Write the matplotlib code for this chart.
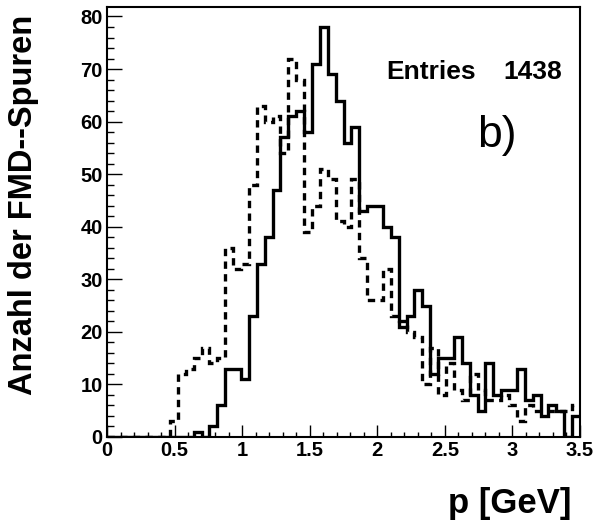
import numpy as np
import matplotlib
matplotlib.use("Agg")
import matplotlib.pyplot as plt
from matplotlib.ticker import MultipleLocator

# Histogram: 60 bins between 0 and 3.5 GeV
x_min, x_max, n_bins = 0.0, 3.5, 60

solid_counts = [
    0, 0, 0, 0, 0, 0, 0, 0, 0, 0,
    0, 1, 0, 2, 6, 13, 13, 11, 23, 33,
    38, 47, 57, 61, 62, 58, 71, 78, 69, 64,
    56, 59, 43, 44, 44, 40, 38, 21, 23, 28,
    25, 12, 15, 15, 19, 14, 8, 5, 14, 8,
    9, 9, 13, 7, 8, 4, 6, 5, 0, 4,
]
dashed_counts = [
    0, 0, 0, 0, 0, 0, 0, 0, 3, 12,
    13, 15, 17, 14, 15, 36, 32, 33, 48, 63,
    60, 61, 54, 72, 68, 39, 44, 51, 49, 41,
    40, 49, 34, 26, 26, 32, 23, 22, 20, 19,
    10, 17, 8, 14, 9, 7, 12, 9, 7, 7,
    8, 6, 3, 6, 5, 5, 5, 5, 5, 6,
]
entries = 1438
panel_tag = "b)"
x_title = "p [GeV]"
y_title = "Anzahl der FMD--Spuren"
x_ticks = [0, 0.5, 1, 1.5, 2, 2.5, 3, 3.5]
x_tick_labels = ["0", "0.5", "1", "1.5", "2", "2.5", "3", "3.5"]
y_ticks = [0, 10, 20, 30, 40, 50, 60, 70, 80]

plt.rcParams["font.family"] = ["Liberation Sans", "DejaVu Sans"]

W, H = 611, 520
fig = plt.figure(figsize=(W / 100, H / 100), dpi=100)
fig.patch.set_facecolor("white")

# axes frame in pixel coords: left 107, right 580, bottom 437, top 6.5
ax = fig.add_axes([107 / W, (H - 437) / H, (580 - 107) / W, (437 - 6.5) / H])

edges = np.linspace(x_min, x_max, n_bins + 1)
ax.stairs(solid_counts, edges, color="black", linewidth=2.4, baseline=None)
ax.stairs(dashed_counts, edges, color="black", linewidth=2.4, baseline=None,
          linestyle=(0, (2.2, 1.6)))

ax.set_xlim(x_min, x_max)
ax.set_ylim(0, 1.05 * max(solid_counts))

ax.set_xticks(x_ticks)
ax.set_xticklabels(x_tick_labels)
ax.set_yticks(y_ticks)
ax.xaxis.set_minor_locator(MultipleLocator(0.1))
ax.yaxis.set_minor_locator(MultipleLocator(2))

ax.tick_params(axis="both", which="both", direction="in", top=False, right=False,
               width=1.0, labelsize=14.5)
ax.tick_params(axis="x", which="major", length=8.5, pad=3)
ax.tick_params(axis="x", which="minor", length=3.8)
ax.tick_params(axis="y", which="major", length=10.5, pad=3)
ax.tick_params(axis="y", which="minor", length=5)
for lab in ax.get_xticklabels() + ax.get_yticklabels():
    lab.set_fontweight("bold")

for sp in ax.spines.values():
    sp.set_linewidth(1.5)

# axis titles and stats text
fig.text(24 / W, 1 - 15 / H, y_title, rotation=90, ha="center", va="top",
         fontsize=23.5, fontweight="bold")
fig.text(571.7 / W, 1 - 513 / H, x_title, ha="right", va="baseline",
         fontsize=25, fontweight="bold")
fig.text(386.7 / W, 1 - 79 / H, "Entries", ha="left", va="baseline",
         fontsize=19, fontweight="bold")
fig.text(561.7 / W, 1 - 79 / H, str(entries), ha="right", va="baseline",
         fontsize=19, fontweight="bold")
fig.text(476.7 / W, 1 - 146.7 / H, panel_tag, ha="left", va="baseline",
         fontsize=32)

fig.savefig("out.png", dpi=100, facecolor="white")
